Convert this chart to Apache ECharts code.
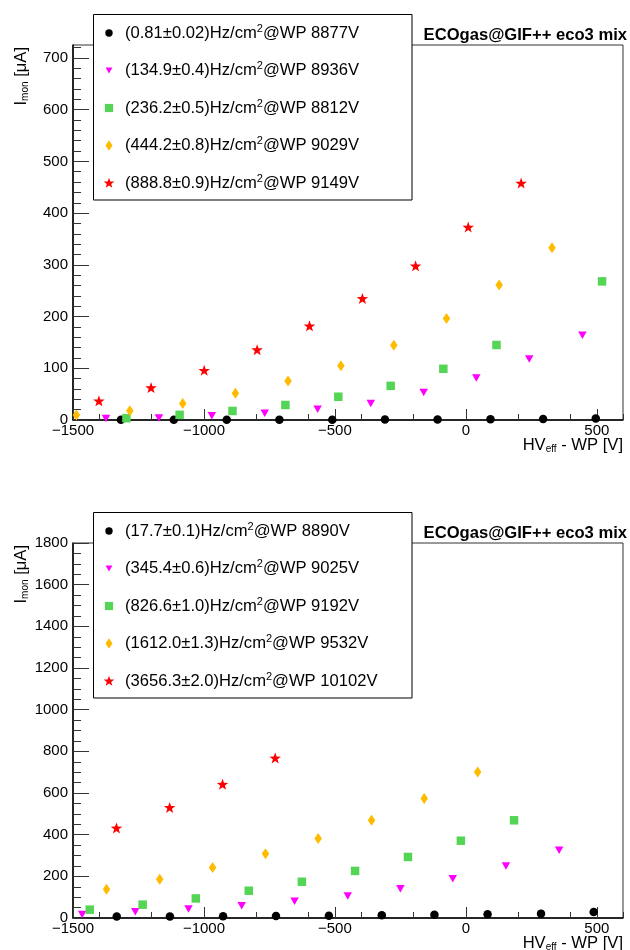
<!DOCTYPE html>
<html>
<head>
<meta charset="utf-8">
<script src="https://cdn.jsdelivr.net/npm/echarts@6/dist/echarts.min.js"></script>
<style>
html,body{margin:0;padding:0;background:#fff;}
#chart{width:630px;height:950px;}
</style>
</head>
<body>
<div id="chart"></div>
<script>
// ---------------- DATA ----------------
const topNames = [
  '(0.81±0.02)Hz/cm2@WP 8877V',
  '(134.9±0.4)Hz/cm2@WP 8936V',
  '(236.2±0.5)Hz/cm2@WP 8812V',
  '(444.2±0.8)Hz/cm2@WP 9029V',
  '(888.8±0.9)Hz/cm2@WP 9149V'
];
const botNames = [
  '(17.7±0.1)Hz/cm2@WP 8890V',
  '(345.4±0.6)Hz/cm2@WP 9025V',
  '(826.6±1.0)Hz/cm2@WP 9192V',
  '(1612.0±1.3)Hz/cm2@WP 9532V',
  '(3656.3±2.0)Hz/cm2@WP 10102V'
];

// top panel
const topX0 = [-1317, -1115, -913, -712, -510, -309, -108, 94, 295, 496];
const topY0 = [0.3, 0.4, 0.5, 0.6, 0.7, 0.8, 1.0, 1.3, 2.0, 3.0];
const topX1 = [-1374, -1172, -970, -768, -566, -363, -161, 40, 242, 445];
const topY1 = [3, 4, 8, 13, 21, 32, 53, 81, 118, 164];
const topX2 = [-1296, -1093, -891, -689, -487, -287, -86, 117, 520];
const topY2 = [3.5, 10, 17.5, 29, 45, 66, 99, 145, 268];
const topX3 = [-1487, -1283, -1081, -880, -679, -477, -275, -74, 127, 329];
const topY3 = [9.5, 18, 32, 51.5, 75.5, 105, 144.5, 196, 261, 333];
const topX4 = [-1401, -1202, -999, -797, -597, -395, -192, 9, 211];
const topY4 = [37, 62.6, 96, 136, 182, 235, 298, 373, 458];

// bottom panel
const botX0 = [-1333, -1130, -927, -725, -523, -321, -120, 83, 287, 488];
const botY0 = [7, 7, 8, 9.5, 11, 13, 16, 18, 21, 29];
const botX1 = [-1465, -1262, -1059, -856, -654, -451, -250, -50, 153, 356];
const botY1 = [17, 30, 43, 59, 80, 106, 141, 189, 250, 325];
const botX2 = [-1436, -1234, -1031, -829, -626, -423, -221, -19, 184];
const botY2 = [40, 64, 94, 131, 174, 226, 293, 371, 469];
const botX3 = [-1372, -1169, -967, -765, -564, -360, -159, 45];
const botY3 = [138, 186, 243, 309, 382, 469, 574, 701];
const botX4 = [-1334, -1131, -929, -728];
const botY4 = [432, 531, 642, 768];

// axis ticks / labels
const xMajorTicks = [-1500, -1000, -500, 0, 500];
const xMinorTicks = [-1400, -1200, -1000, -800, -600, -400, -200, 0, 200, 400, 600];
const yTopMajor = [0, 100, 200, 300, 400, 500, 600, 700];
const yBotMajor = [0, 200, 400, 600, 800, 1000, 1200, 1400, 1600, 1800];
const titleText = 'ECOgas@GIF++ eco3 mix';

// ---------------- STYLE ----------------
const FONT = '"Liberation Sans", Arial, Helvetica, sans-serif';
function starPath(cx, cy, R, r) {
  let s = '';
  for (let k = 0; k < 10; k++) {
    const a = (-90 + k * 36) * Math.PI / 180;
    const rad = k % 2 === 0 ? R : r;
    s += (k === 0 ? 'M' : 'L') + (cx + rad * Math.cos(a)).toFixed(2) + ',' + (cy + rad * Math.sin(a)).toFixed(2) + ' ';
  }
  return s + 'Z';
}
const TRI_DOWN = 'path://M0,0 L10,0 L5,9 Z';
const SQUARE = 'path://M0,0 L10,0 L10,10 L0,10 Z';
const DIAMOND = 'path://M5,0 L10,8 L5,16 L0,8 Z';
const STAR = 'path://' + starPath(50, 50, 50, 20);
const markerStyles = [
  {symbol: 'circle', size: 8.5, color: '#000000'},
  {symbol: TRI_DOWN, size: [8.5, 7.5], color: '#ff00ff'},
  {symbol: SQUARE, size: 8.5, color: '#55d555'},
  {symbol: DIAMOND, size: [7.5, 11], color: '#ffbb00'},
  {symbol: STAR, size: [11.5, 11], color: '#ff0000'}
];
// legend icons drawn in a 12x12 box (corner moves keep the box size)
const BOX = 'path://M0,0 M12,12 ';
const legendIcons = [
  BOX + 'M2.3,6 A3.7,3.7 0 1 1 9.7,6 A3.7,3.7 0 1 1 2.3,6 Z',
  BOX + 'M2.6,3 L9.4,3 L6,9 Z',
  BOX + 'M1.9,1.9 L10.1,1.9 L10.1,10.1 L1.9,10.1 Z',
  BOX + 'M6,0.8 L9.5,6 L6,11.2 L2.5,6 Z',
  BOX + starPath(6, 6.3, 5.6, 2.3)
];

const zip = (xs, ys) => xs.map((v, i) => [v, ys[i]]);
const topSets = [zip(topX0, topY0), zip(topX1, topY1), zip(topX2, topY2), zip(topX3, topY3), zip(topX4, topY4)];
const botSets = [zip(botX0, botY0), zip(botX1, botY1), zip(botX2, botY2), zip(botX3, botY3), zip(botX4, botY4)];

function minorList(step, max, skipStep) {
  const out = [];
  for (let v = step; v <= max; v += step) { if (v % skipStep !== 0) out.push(v); }
  return out;
}
const yTopMinor = minorList(20, 720, 100);
const yBotMinor = minorList(50, 1800, 200);

const fmt = v => (v < 0 ? '\u2212' + Math.abs(v) : String(v));

const GRID_TOPS = [45, 543];
const grids = GRID_TOPS.map(t => ({
  left: 73, top: t, width: 550, height: 375,
  show: true, borderColor: '#333', borderWidth: 1, backgroundColor: 'transparent'
}));

function xAxes(gi) {
  return [
    {
      gridIndex: gi, type: 'value', position: 'bottom', min: -1500, max: 600,
      axisLine: {show: true, onZero: false, lineStyle: {color: '#000', width: 1.5}},
      axisTick: {show: true, inside: true, length: 11, customValues: xMajorTicks, lineStyle: {color: '#333', width: 1}},
      axisLabel: {show: true, customValues: xMajorTicks, formatter: fmt, margin: 3,
        fontSize: 15, fontFamily: FONT, color: '#000'},
      splitLine: {show: false}
    },
    {
      gridIndex: gi, type: 'value', position: 'bottom', min: -1500, max: 600,
      axisLine: {show: false, onZero: false},
      axisTick: {show: true, inside: true, length: 6, customValues: xMinorTicks, lineStyle: {color: '#333', width: 1}},
      axisLabel: {show: false},
      splitLine: {show: false}
    }
  ];
}
function yAxes(gi, max, major, minor) {
  return [
    {
      gridIndex: gi, type: 'value', position: 'left', min: 0, max: max,
      axisLine: {show: true, onZero: false, lineStyle: {color: '#000', width: 1.5}},
      axisTick: {show: true, inside: true, length: 16, customValues: major, lineStyle: {color: '#333', width: 1}},
      axisLabel: {show: true, customValues: major, margin: 5, formatter: fmt,
        fontSize: 15, fontFamily: FONT, color: '#000'},
      splitLine: {show: false}
    },
    {
      gridIndex: gi, type: 'value', position: 'left', min: 0, max: max,
      axisLine: {show: false, onZero: false},
      axisTick: {show: true, inside: true, length: 8, customValues: minor, lineStyle: {color: '#333', width: 1}},
      axisLabel: {show: false},
      splitLine: {show: false}
    }
  ];
}

const series = [];
topSets.forEach((d, i) => series.push({
  type: 'scatter', name: topNames[i], xAxisIndex: 0, yAxisIndex: 0, data: d,
  symbol: markerStyles[i].symbol, symbolSize: markerStyles[i].size,
  itemStyle: {color: markerStyles[i].color, opacity: 1}, z: 3
}));
botSets.forEach((d, i) => series.push({
  type: 'scatter', name: botNames[i], xAxisIndex: 2, yAxisIndex: 2, data: d,
  symbol: markerStyles[i].symbol, symbolSize: markerStyles[i].size,
  itemStyle: {color: markerStyles[i].color, opacity: 1}, z: 3
}));

const legendText = {
  fontSize: 16.6, fontFamily: FONT, color: '#000', lineHeight: 20,
  rich: {sup: {fontSize: 11, lineHeight: 11, fontFamily: FONT, color: '#000', verticalAlign: 'top'}}
};
function legendFor(names, top) {
  return {
    data: names.map((n, i) => ({name: n, icon: legendIcons[i]})),
    orient: 'vertical', left: 103, top: top, padding: 0,
    itemWidth: 22, itemHeight: 12, itemGap: 17.5, selectedMode: false,
    textStyle: legendText, z: 6,
    formatter: n => n.replace('cm2@', 'cm{sup|2}@')
  };
}

const graphics = [];
[0, 498].forEach(off => {
  graphics.push({type: 'rect', z: 5, shape: {x: 93.5, y: 14.5 + off, width: 318.5, height: 185.5},
    style: {fill: '#fff', stroke: '#000', lineWidth: 1}});
  graphics.push({type: 'text', z: 10, x: 627, y: 35 + off,
    style: {text: titleText, align: 'right', verticalAlign: 'middle', fontSize: 16.6, fontWeight: 'bold', fontFamily: FONT, fill: '#000'}});
  graphics.push({type: 'text', z: 10, x: 623, y: 445 + off,
    style: {text: 'HV{sub|eff} - WP [V]', align: 'right', verticalAlign: 'middle', fontSize: 16.6, fontFamily: FONT, fill: '#000', lineHeight: 18,
      rich: {sub: {fontSize: 10, lineHeight: 10, fontFamily: FONT, fill: '#000', verticalAlign: 'bottom'}}}});
  graphics.push({type: 'text', z: 10, x: 21, y: 47 + off, rotation: Math.PI / 2,
    style: {text: 'I{sub|mon} [\u03bcA]', align: 'right', verticalAlign: 'middle', fontSize: 16.6, fontFamily: FONT, fill: '#000', lineHeight: 18,
      rich: {sub: {fontSize: 10, lineHeight: 10, fontFamily: FONT, fill: '#000', verticalAlign: 'bottom'}}}});
});

const option = {
  animation: false,
  backgroundColor: '#fff',
  grid: grids,
  xAxis: [...xAxes(0), ...xAxes(1)],
  yAxis: [...yAxes(0, 725, yTopMajor, yTopMinor), ...yAxes(1, 1800, yBotMajor, yBotMinor)],
  legend: [legendFor(topNames, 23), legendFor(botNames, 521)],
  graphic: graphics,
  series: series
};
const chart = echarts.init(document.getElementById('chart'), null, {renderer: 'canvas'});
chart.setOption(option);
</script>
</body>
</html>
